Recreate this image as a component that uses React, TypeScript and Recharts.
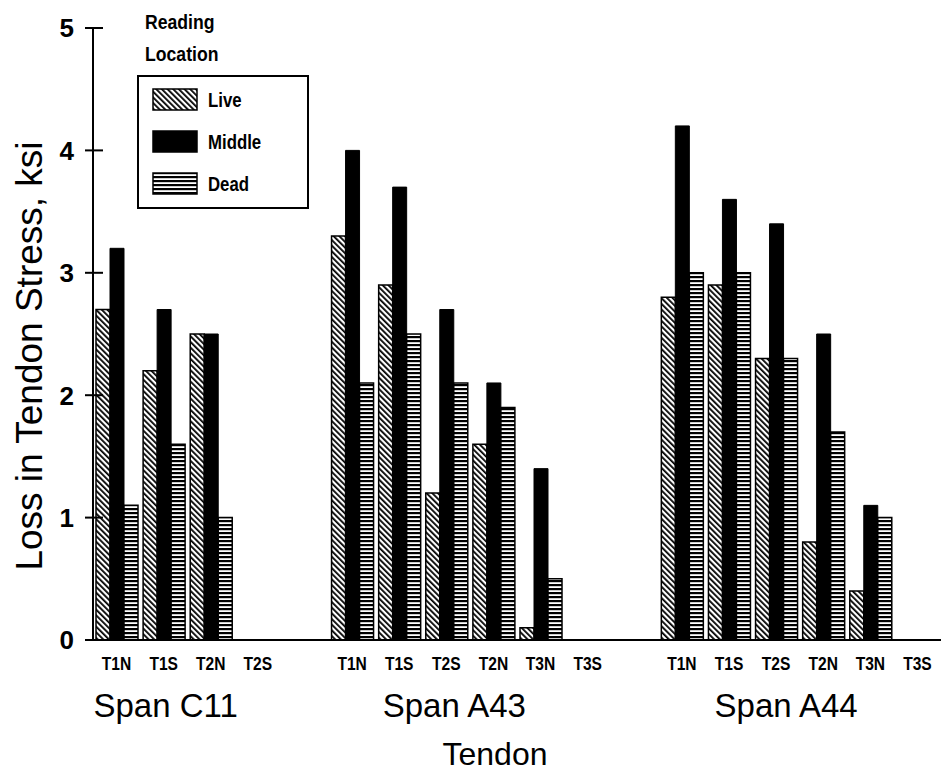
import React from 'react';
import { BarChart, Bar, XAxis, YAxis, Legend } from 'recharts';

const tendons = ['T1N', 'T1S', 'T2N', 'T2S', '', 'T1N', 'T1S', 'T2S', 'T2N', 'T3N', 'T3S', '', 'T1N', 'T1S', 'T2S', 'T2N', 'T3N', 'T3S'];
const spanOf = ['C11', 'C11', 'C11', 'C11', 'gap1', 'A43', 'A43', 'A43', 'A43', 'A43', 'A43', 'gap2', 'A44', 'A44', 'A44', 'A44', 'A44', 'A44'];
const liveValues = [2.7, 2.2, 2.5, null, null, 3.3, 2.9, 1.2, 1.6, 0.1, null, null, 2.8, 2.9, 2.3, 0.8, 0.4, null];
const middleValues = [3.2, 2.7, 2.5, null, null, 4.0, 3.7, 2.7, 2.1, 1.4, null, null, 4.2, 3.6, 3.4, 2.5, 1.1, null];
const deadValues = [1.1, 1.6, 1.0, null, null, 2.1, 2.5, 2.1, 1.9, 0.5, null, null, 3.0, 3.0, 2.3, 1.7, 1.0, null];
const yTicks = [0, 1, 2, 3, 4, 5];
const spanTitles = ['Span C11', 'Span A43', 'Span A44'];
const spanAnchorIndex = [1, 7, 14];
const spanAnchorShift = [2, 8, 10];
const seriesNames = ['Live', 'Middle', 'Dead'];

const data = tendons.map((t, i) => ({
  key: spanOf[i] + '-' + t + '-' + i,
  tendon: t,
  live: liveValues[i],
  middle: middleValues[i],
  dead: deadValues[i],
}));

const FONT = '"Liberation Sans", Arial, Helvetica, sans-serif';

const TICK_SIZE = 7;
const TICK_MARGIN = 12;

const NarrowText = ({ x, y, size, anchor, children, sx = 0.82 }: any) => (
  <text
    transform={`translate(${x} ${y}) scale(${sx} 1)`}
    x={0}
    y={0}
    textAnchor={anchor || 'start'}
    fontFamily={FONT}
    fontWeight="bold"
    fontSize={size}
    fill="#000"
  >
    {children}
  </text>
);

const YTick = (props: any) => {
  const { x, y, payload } = props;
  const axisX = x + TICK_SIZE + TICK_MARGIN;
  return (
    <g>
      <line x1={axisX - 8} x2={axisX + 10} y1={y} y2={y} stroke="#000" strokeWidth={2} />
      <text x={x} y={y} dy="0.36em" textAnchor="end" fontFamily={FONT} fontWeight="bold" fontSize={26} fill="#000">
        {payload.value}
      </text>
    </g>
  );
};

const XTick = (props: any) => {
  const { x, y, payload, index } = props;
  const i = typeof index === 'number' ? index : payload.index;
  const label = tendons[i];
  const s = spanAnchorIndex.indexOf(i);
  return (
    <g>
      {label ? (
        <NarrowText x={x} y={y + 22} size={19} anchor="middle">
          {label}
        </NarrowText>
      ) : null}
      {s >= 0 ? (
        <text x={x + spanAnchorShift[s]} y={y} dy={69} textAnchor="middle" fontFamily={FONT} fontSize={33} fill="#000">
          {spanTitles[s]}
        </text>
      ) : null}
    </g>
  );
};

const YLabel = (props: any) => {
  const vb = props.viewBox || { x: 0, y: 28, width: 93, height: 612 };
  const cx = vb.x + 42;
  const cy = vb.y + vb.height / 2 + 22;
  return (
    <text x={cx} y={cy} transform={`rotate(-90 ${cx} ${cy})`} textAnchor="middle" fontFamily={FONT} fontSize={37} fill="#000">
      Loss in Tendon Stress, ksi
    </text>
  );
};

const XLabel = (props: any) => {
  const vb = props.viewBox || { x: 93, y: 640, width: 848, height: 136 };
  const cx = vb.x + vb.width / 2 - 22;
  const cy = vb.y + 125;
  return (
    <text x={cx} y={cy} textAnchor="middle" fontFamily={FONT} fontSize={32} fill="#000">
      Tendon
    </text>
  );
};

const fills = ['url(#liveHatch)', '#000', 'url(#deadHatch)'];

const LegendBox = () => (
  <svg width={180} height={206} style={{ display: 'block', overflow: 'visible' }}>
    <NarrowText x={9} y={21} size={21} sx={0.84}>Reading</NarrowText>
    <NarrowText x={9} y={53} size={21} sx={0.84}>Location</NarrowText>
    <rect x={2} y={68} width={170} height={132} fill="#fff" stroke="#000" strokeWidth={2} />
    {seriesNames.map((n, k) => (
      <g key={n}>
        <rect x={17} y={81 + k * 42} width={44} height={21} fill={fills[k]} stroke="#000" strokeWidth={1.5} />
        <NarrowText x={72} y={99 + k * 42} size={20} sx={0.84}>{n}</NarrowText>
      </g>
    ))}
  </svg>
);

export default function App() {
  return (
    <div style={{ position: 'absolute', left: 0, top: 0, width: 941, height: 776, background: '#fff' }}>
      <BarChart
        width={941}
        height={776}
        data={data}
        margin={{ top: 28, right: 0, bottom: 0, left: 0 }}
        barCategoryGap={3}
        barGap={0}
      >
        <defs>
          <pattern id="liveHatch" patternUnits="userSpaceOnUse" width={4} height={10} patternTransform="rotate(-45)">
            <rect x={0} y={0} width={4} height={10} fill="#fff" />
            <rect x={0} y={0} width={1.8} height={10} fill="#000" />
          </pattern>
          <pattern id="deadHatch" patternUnits="userSpaceOnUse" width={10} height={4}>
            <rect x={0} y={0} width={10} height={4} fill="#fff" />
            <rect x={0} y={0} width={10} height={2.2} fill="#000" />
          </pattern>
        </defs>
        <XAxis
          dataKey="key"
          type="category"
          height={136}
          interval={0}
          tickLine={false}
          tickSize={6}
          tickMargin={2}
          axisLine={{ stroke: '#000', strokeWidth: 2 }}
          tick={<XTick />}
          label={<XLabel />}
        />
        <YAxis
          width={93}
          domain={[0, 5]}
          ticks={yTicks}
          interval={0}
          tickLine={false}
          tickSize={TICK_SIZE}
          tickMargin={TICK_MARGIN}
          axisLine={{ stroke: '#000', strokeWidth: 2 }}
          tick={<YTick />}
          label={<YLabel />}
        />
        <Legend
          layout="horizontal"
          verticalAlign="middle"
          align="center"
          wrapperStyle={{ position: 'absolute', left: 136, top: 8, width: 180, height: 206 }}
          content={() => <LegendBox />}
        />
        <Bar dataKey="live" name="Live" fill="url(#liveHatch)" stroke="#000" strokeWidth={1.5} isAnimationActive={false} />
        <Bar dataKey="middle" name="Middle" fill="#000" stroke="#000" strokeWidth={1} isAnimationActive={false} />
        <Bar dataKey="dead" name="Dead" fill="url(#deadHatch)" stroke="#000" strokeWidth={1.5} isAnimationActive={false} />
      </BarChart>
    </div>
  );
}
